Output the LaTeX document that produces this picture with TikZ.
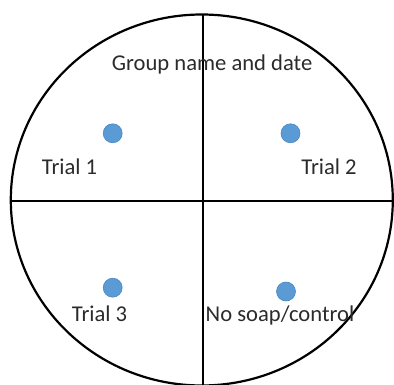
\documentclass[tikz,border=0pt]{standalone}
\usepackage{fontspec}
\setmainfont{Carlito}
\definecolor{dotblue}{HTML}{5B9BD5}
\definecolor{dotedge}{HTML}{4A86C0}
\definecolor{txt}{HTML}{2B2B2B}
\tikzset{
  dot/.style={circle,fill=dotblue,draw=dotedge,line width=0.6pt,minimum size=19pt,inner sep=0pt},
  lbl/.style={anchor=base west,inner sep=0pt,text=txt,font=\fontsize{22.6}{25}\selectfont},
  rim/.style={line width=2.2pt,black}
}
\begin{document}
\begin{tikzpicture}[x=1pt,y=-1pt]
\useasboundingbox (0,0) rectangle (394,385);
\draw[rim] (201.8,200) ellipse [x radius=191,y radius=185.5];
\coordinate (top) at (203,14.5);
\coordinate (bot) at (203,390);
\coordinate (lft) at (10.8,201);
\coordinate (rgt) at (394,201);
\draw[rim] (top) -- (bot);
\draw[rim] (lft) -- (rgt);
\node[dot] (d1) at (112.7,133.3) {};
\node[dot] (d2) at (290.5,133.3) {};
\node[dot] (d3) at (112.7,287.7) {};
\node[dot] (d4) at (286,291.5) {};
\node[lbl] (g) at (111.7,70.7) {Group name and date};
\node[lbl] (t1) at (41.7,174.3) {Trial 1};
\node[lbl] (t2) at (301.2,174.3) {Trial 2};
\node[lbl] (t3) at (71.7,321.3) {Trial 3};
\node[lbl] (t4) at (205.5,321.3) {No soap/control};
\end{tikzpicture}
\end{document}
